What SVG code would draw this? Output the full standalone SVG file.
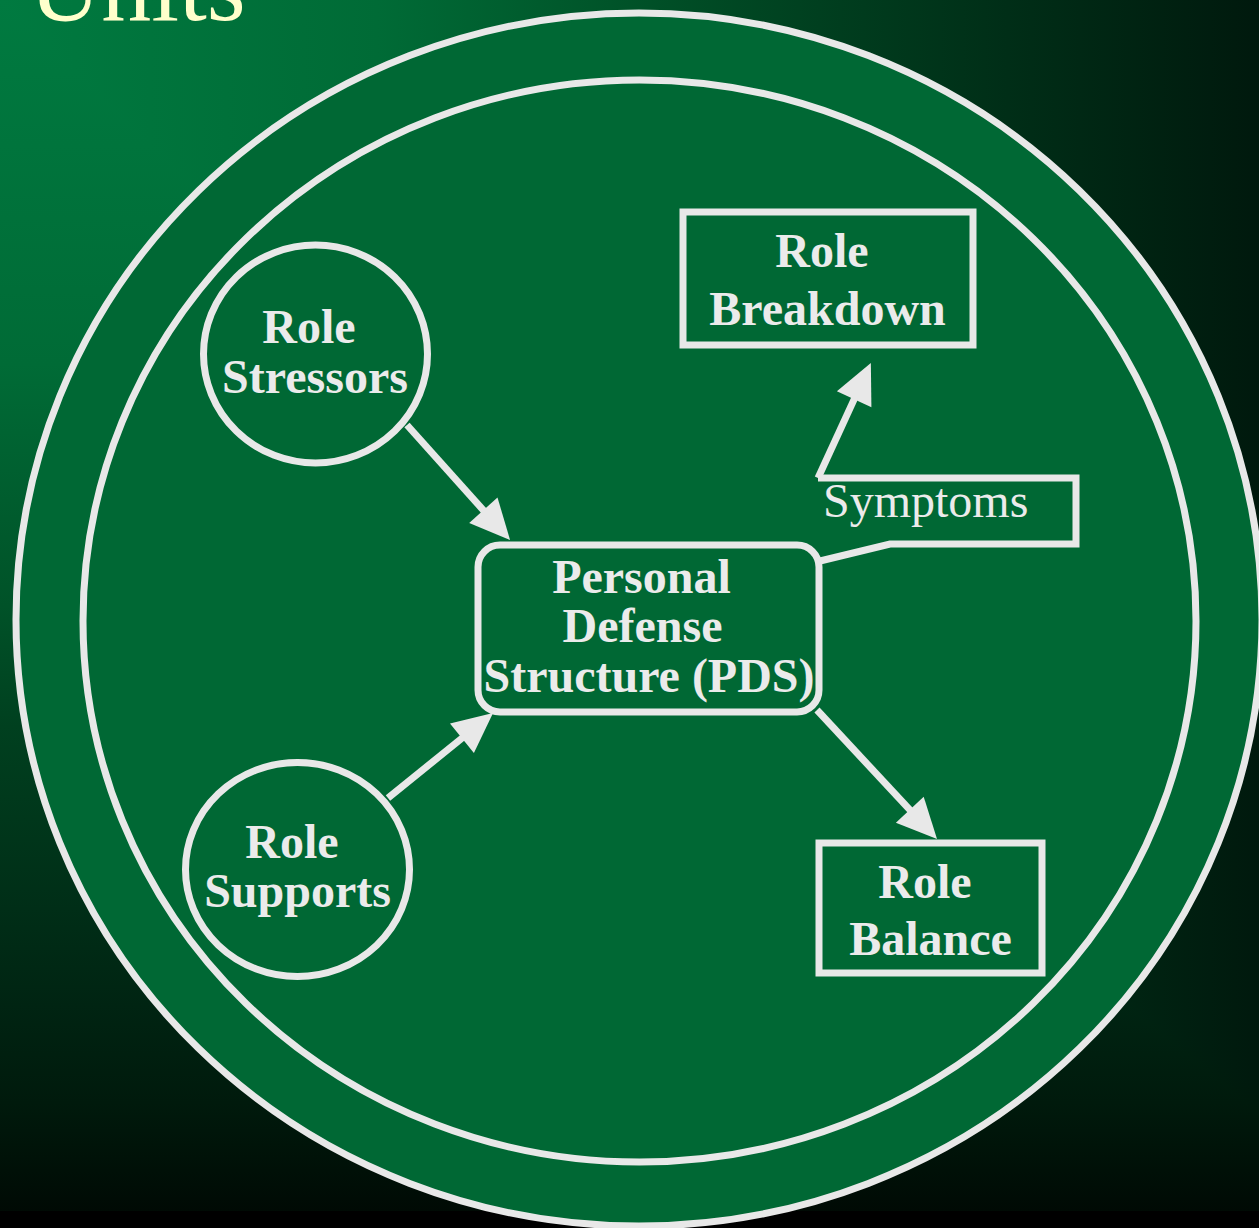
<svg xmlns="http://www.w3.org/2000/svg" width="1259" height="1228" viewBox="0 0 1259 1228">
  <defs>
    <!-- corner-style backdrop: horizontal and vertical shading, darker one wins -->
    <linearGradient id="bgH" gradientUnits="userSpaceOnUse" x1="0" y1="0" x2="1259" y2="0">
      <stop offset="0" stop-color="#007a40"/>
      <stop offset="0.3" stop-color="#006b36"/>
      <stop offset="0.5" stop-color="#005228"/>
      <stop offset="0.65" stop-color="#003f1f"/>
      <stop offset="0.8" stop-color="#002e17"/>
      <stop offset="1" stop-color="#00190d"/>
    </linearGradient>
    <linearGradient id="bgV" gradientUnits="userSpaceOnUse" x1="0" y1="0" x2="0" y2="1212">
      <stop offset="0" stop-color="#007a40"/>
      <stop offset="0.3" stop-color="#006b36"/>
      <stop offset="0.5" stop-color="#005228"/>
      <stop offset="0.6" stop-color="#00401f"/>
      <stop offset="0.75" stop-color="#002e17"/>
      <stop offset="0.83" stop-color="#002412"/>
      <stop offset="0.91" stop-color="#001a0c"/>
      <stop offset="1" stop-color="#000a04"/>
    </linearGradient>
    <marker id="arrow" markerUnits="userSpaceOnUse" markerWidth="40" markerHeight="38"
            refX="20" refY="19" orient="auto" overflow="visible">
      <path d="M0,0 L40,19 L0,38 Z" fill="#e8e8e8"/>
    </marker>
  </defs>
  <style>
    .ring { fill: #006834; stroke: #e8e8e8; stroke-width: 7; }
    .node { fill: #006834; stroke: #e8e8e8; stroke-width: 7; }
    .edge { fill: none; stroke: #e8e8e8; stroke-width: 7; }
    .label { font-family: "Liberation Serif", "Times New Roman", serif; font-size: 48px;
             font-weight: bold; fill: #ebebeb; text-anchor: middle; }
    .note { font-family: "Liberation Serif", "Times New Roman", serif; font-size: 48px;
            fill: #ebebeb; }
    .title { font-family: "Liberation Serif", "Times New Roman", serif; font-size: 100px;
             fill: #ffffcc; }
  </style>

  <!-- backdrop -->
  <g id="backdrop" style="isolation: isolate">
    <rect x="0" y="0" width="1259" height="1228" fill="url(#bgH)"/>
    <rect x="0" y="0" width="1259" height="1228" fill="url(#bgV)" style="mix-blend-mode: darken"/>
  </g>
  <rect x="0" y="1211" width="1259" height="17" fill="#000000"/>

  <!-- heading -->
  <text class="title" x="29" y="20">Units</text>

  <!-- concentric boundaries -->
  <g id="outer-ring">
    <ellipse class="ring" cx="639" cy="619.5" rx="623" ry="606.5"/>
  </g>
  <g id="inner-ring">
    <ellipse class="ring" cx="639.5" cy="621" rx="556.5" ry="541"/>
  </g>

  <!-- connectors -->
  <g id="connectors">
    <line class="edge" x1="407" y1="425" x2="496.7" y2="525.1" marker-end="url(#arrow)"/>
    <line class="edge" x1="388" y1="798" x2="477.5" y2="725.6" marker-end="url(#arrow)"/>
    <line class="edge" x1="817" y1="710" x2="923.4" y2="824.4" marker-end="url(#arrow)"/>
    <line class="edge" x1="818" y1="478" x2="862.5" y2="381.1" marker-end="url(#arrow)"/>
  </g>

  <!-- symptoms callout -->
  <g id="symptoms">
    <path class="edge" d="M818,478 H1076 V544 H890 L820,561" stroke-linejoin="miter"/>
    <text class="note" x="823" y="517">Symptoms</text>
  </g>

  <g id="role-stressors">
    <ellipse class="node" cx="315.5" cy="354" rx="112" ry="109"/>
    <text class="label" x="309" y="343">Role</text>
    <text class="label" x="315" y="393">Stressors</text>
  </g>

  <g id="role-supports">
    <ellipse class="node" cx="297.5" cy="869.5" rx="112" ry="107"/>
    <text class="label" x="292" y="858">Role</text>
    <text class="label" x="297.5" y="907">Supports</text>
  </g>

  <g id="pds">
    <rect class="node" x="478" y="545" width="341" height="167" rx="22"/>
    <text class="label" x="641.5" y="593">Personal</text>
    <text class="label" x="642.5" y="642">Defense</text>
    <text class="label" x="649" y="692">Structure (PDS)</text>
  </g>

  <g id="role-breakdown">
    <rect class="node" x="683" y="212" width="290" height="133"/>
    <text class="label" x="822" y="267">Role</text>
    <text class="label" x="827.5" y="325">Breakdown</text>
  </g>

  <g id="role-balance">
    <rect class="node" x="819" y="843" width="223" height="130"/>
    <text class="label" x="925" y="898">Role</text>
    <text class="label" x="930.5" y="955">Balance</text>
  </g>
</svg>
